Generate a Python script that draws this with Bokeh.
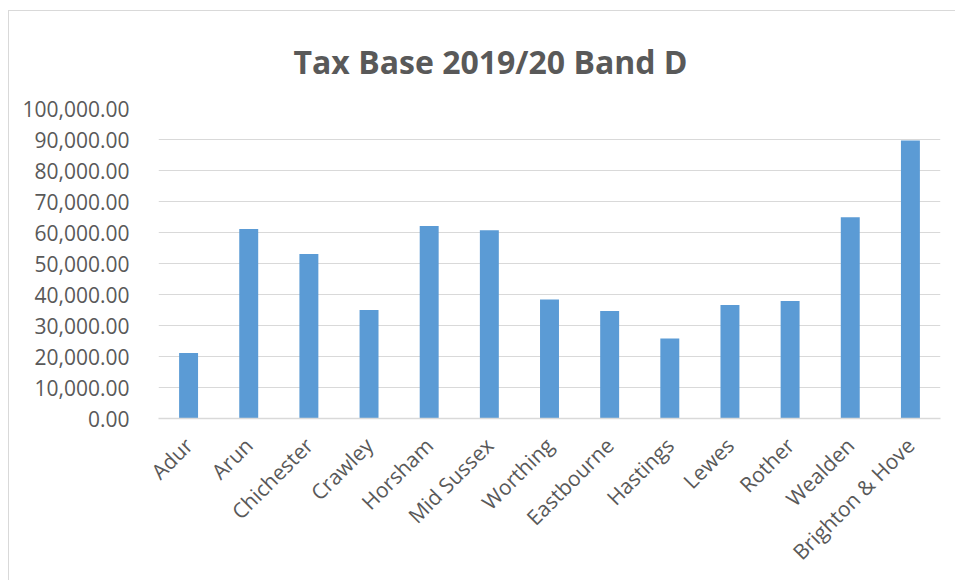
from bokeh.plotting import figure
from bokeh.models import NumeralTickFormatter, FixedTicker, Range1d
from bokeh.embed import file_html
from bokeh.resources import INLINE
import math

categories = ["Adur", "Arun", "Chichester", "Crawley", "Horsham", "Mid Sussex",
              "Worthing", "Eastbourne", "Hastings", "Lewes", "Rother", "Wealden",
              "Brighton & Hove"]
values = [21100, 61100, 53100, 35000, 62100, 60700, 38400, 34700, 25800,
          36600, 37900, 64900, 89700]
y_ticks = list(range(0, 100001, 10000))

FONT = "Open Sans"
TXT = "#595959"
GRID = "#d9d9d9"

p = figure(x_range=categories, y_range=Range1d(0, 100000),
           width=947, height=570, output_backend="svg", toolbar_location=None,
           min_border_left=149, min_border_right=16, min_border_top=97,
           min_border_bottom=163)
p.styles = {"border-top": "1px solid #d9d9d9", "border-left": "1px solid #d9d9d9",
            "margin-top": "10px", "margin-left": "8px"}

p.vbar(x=categories, top=values, width=0.315, color="#5b9bd5", line_color=None)

p.title.text = "Tax Base 2019/20 Band D"
p.title.text_font = FONT
p.title.text_font_size = "32px"
p.title.text_font_style = "bold"
p.title.text_color = TXT
p.title.align = "left"
p.title.offset = 135
p.title.standoff = 52

p.x_range.range_padding = 0
p.outline_line_color = None
p.xgrid.grid_line_color = None
p.ygrid.grid_line_color = GRID
p.ygrid.grid_line_width = 1

p.yaxis.ticker = FixedTicker(ticks=y_ticks)
p.yaxis.formatter = NumeralTickFormatter(format="0,0.00")
p.yaxis.axis_line_color = None
p.yaxis.major_tick_line_color = None
p.yaxis.minor_tick_line_color = None
p.yaxis.major_label_standoff = 23
p.yaxis.major_label_text_font = FONT
p.yaxis.major_label_text_font_size = "21px"
p.yaxis.major_label_text_color = TXT

p.xaxis.axis_line_color = GRID
p.xaxis.axis_line_width = 1.5
p.xaxis.major_tick_line_color = None
p.xaxis.minor_tick_line_color = None
p.xaxis.major_label_orientation = math.pi / 4
p.xaxis.major_label_standoff = 17
p.xaxis.major_label_text_font = FONT
p.xaxis.major_label_text_font_size = "21px"
p.xaxis.major_label_text_color = TXT

open("out.html", "w").write(file_html(p, INLINE))
